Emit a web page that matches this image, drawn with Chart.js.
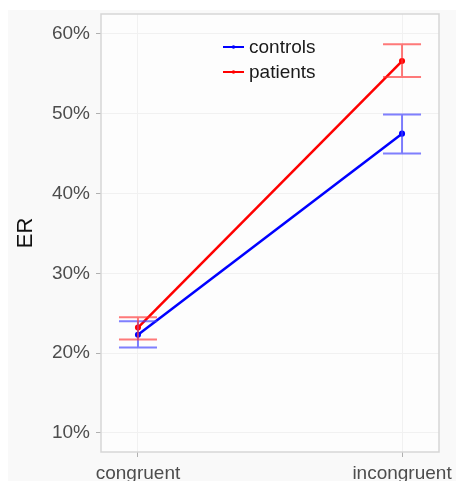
<!DOCTYPE html>
<html>
<head>
<meta charset="utf-8">
<script src="https://cdn.jsdelivr.net/npm/chart.js@4.4.1/dist/chart.umd.min.js"></script>
<style>
  html, body { margin: 0; padding: 0; background: #ffffff; }
  #wrap { width: 456px; height: 481px; }
</style>
</head>
<body>
<div id="wrap"><canvas id="er"></canvas></div>
<script>
/* ─── data ─────────────────────────────────────── */
const categories = ['congruent', 'incongruent'];
const seriesNames = ['controls', 'patients'];
const controlsMean = [22.3, 47.5];
const controlsLow = [20.7, 45.0];
const controlsHigh = [24.0, 49.9];
const patientsMean = [23.2, 56.6];
const patientsLow = [21.7, 54.6];
const patientsHigh = [24.5, 58.7];
const yTicks = [10, 20, 30, 40, 50, 60];

const colors = { controls: '#0000ff', patients: '#ff0000' };
const errColors = { controls: 'rgba(60,60,255,0.65)', patients: 'rgba(255,50,50,0.65)' };

const toPoints = arr => arr.map((v, i) => ({ x: i, y: v }));

/* ─── plugins ──────────────────────────────────── */
const backdrop = {
    id: 'backdrop',
    beforeDraw(chart) {
        const { ctx, chartArea: a } = chart;
        ctx.save();
        ctx.fillStyle = '#f9f9f9';
        ctx.fillRect(8, 10, chart.width - 8, chart.height - 10);
        ctx.fillStyle = '#fdfdfd';
        ctx.fillRect(a.left, a.top, a.right - a.left, a.bottom - a.top);
        ctx.restore();
    },
    afterDraw(chart) {
        const { ctx, chartArea: a } = chart;
        ctx.save();
        ctx.strokeStyle = '#d6d6d6';
        ctx.lineWidth = 1.5;
        ctx.strokeRect(a.left, a.top, a.right - a.left, a.bottom - a.top);
        ctx.restore();
    }
};

const errorBars = {
    id: 'errorBars',
    afterDatasetsDraw(chart) {
        const { ctx, scales: { x, y } } = chart;
        const sets = [
            { low: controlsLow, high: controlsHigh, color: errColors.controls },
            { low: patientsLow, high: patientsHigh, color: errColors.patients }
        ];
        ctx.save();
        ctx.lineWidth = 2;
        sets.forEach(s => {
            ctx.strokeStyle = s.color;
            categories.forEach((c, i) => {
                const px = x.getPixelForValue(i);
                const yl = y.getPixelForValue(s.low[i]);
                const yh = y.getPixelForValue(s.high[i]);
                const half = 19;
                ctx.beginPath();
                ctx.moveTo(px, yl); ctx.lineTo(px, yh);
                ctx.moveTo(px - half, yl); ctx.lineTo(px + half, yl);
                ctx.moveTo(px - half, yh); ctx.lineTo(px + half, yh);
                ctx.stroke();
            });
        });
        ctx.restore();
    }
};

const legendBox = {
    id: 'legendBox',
    afterDraw(chart) {
        const { ctx } = chart;
        const rows = [
            { label: seriesNames[0], color: colors.controls, y: 47 },
            { label: seriesNames[1], color: colors.patients, y: 72 }
        ];
        ctx.save();
        ctx.font = '19px "Liberation Sans", Arial, sans-serif';
        ctx.textBaseline = 'middle';
        rows.forEach(r => {
            ctx.strokeStyle = r.color;
            ctx.fillStyle = r.color;
            ctx.lineWidth = 2;
            ctx.beginPath();
            ctx.moveTo(223, r.y); ctx.lineTo(244, r.y);
            ctx.stroke();
            ctx.beginPath();
            ctx.arc(233.5, r.y, 1.8, 0, Math.PI * 2);
            ctx.fill();
            ctx.fillStyle = '#1a1a1a';
            ctx.fillText(r.label, 249, r.y + 1);
        });
        ctx.restore();
    }
};

/* ─── chart ────────────────────────────────────── */
new Chart(document.getElementById('er'), {
    type: 'line',
    data: {
        datasets: [
            {
                label: seriesNames[0],
                data: toPoints(controlsMean),
                borderColor: colors.controls,
                backgroundColor: colors.controls,
                borderWidth: 2.5,
                pointRadius: 1.8,
                pointHoverRadius: 1.8,
                tension: 0
            },
            {
                label: seriesNames[1],
                data: toPoints(patientsMean),
                borderColor: colors.patients,
                backgroundColor: colors.patients,
                borderWidth: 2.5,
                pointRadius: 1.8,
                pointHoverRadius: 1.8,
                tension: 0
            }
        ]
    },
    options: {
        responsive: true,
        maintainAspectRatio: false,
        animation: false,
        layout: { padding: { top: 14, right: 17, left: 0, bottom: 0 } },
        plugins: {
            legend: { display: false },
            tooltip: { enabled: false }
        },
        scales: {
            x: {
                type: 'linear',
                min: -0.14,
                max: 1.14,
                afterBuildTicks: s => { s.ticks = categories.map((c, i) => ({ value: i })); },
                afterFit: s => { s.height = 29; s.paddingLeft = 0; s.paddingRight = 0; },
                ticks: {
                    callback: v => categories[v],
                    color: '#4d4d4d',
                    padding: 5,
                    maxRotation: 0,
                    autoSkip: false,
                    font: { family: '"Liberation Sans", Arial, sans-serif', size: 19 }
                },
                grid: { color: '#f1f1f1', tickLength: 5, tickColor: '#b0b0b0', drawOnChartArea: true },
                border: { display: false }
            },
            y: {
                min: 7.6,
                max: 62.5,
                afterBuildTicks: s => { s.ticks = yTicks.map(v => ({ value: v })); },
                afterFit: s => { s.width = 101; s.paddingTop = 0; s.paddingBottom = 0; },
                title: {
                    display: true,
                    text: 'ER',
                    color: '#111111',
                    padding: { top: 13, bottom: 0 },
                    font: { family: '"Liberation Sans", Arial, sans-serif', size: 22 }
                },
                ticks: {
                    callback: v => v + '%',
                    color: '#4d4d4d',
                    padding: 6,
                    font: { family: '"Liberation Sans", Arial, sans-serif', size: 19 }
                },
                grid: { color: '#f1f1f1', tickLength: 5, tickColor: '#b0b0b0' },
                border: { display: false }
            }
        }
    },
    plugins: [backdrop, errorBars, legendBox]
});
</script>
</body>
</html>
